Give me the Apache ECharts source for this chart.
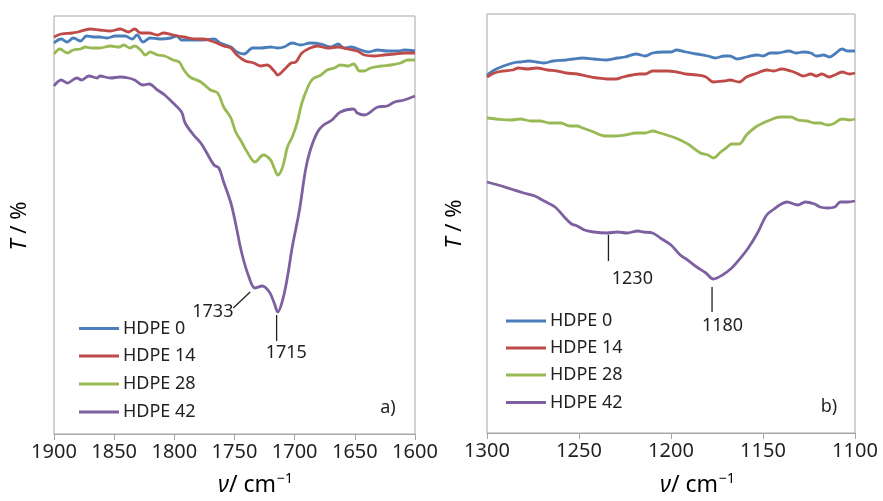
<!DOCTYPE html>
<html>
<head>
<meta charset="utf-8">
<script src="https://cdn.jsdelivr.net/npm/echarts@6/dist/echarts.min.js"></script>
<style>
html,body{margin:0;padding:0;background:#fff;}
#chart{width:883px;height:501px;}
</style>
</head>
<body>
<div id="chart"></div>
<script>
// ---------- DATA ----------
var seriesNames = ['HDPE 0', 'HDPE 14', 'HDPE 28', 'HDPE 42'];

// Panel a) 1900-1600 cm-1  [wavenumber, T (arbitrary units)]
var a_HDPE0 = [[1900,391],[1894,395],[1889,392],[1884,396],[1878,393],[1873,398],[1867,397],[1862,397],[1856,396],[1849,398],[1841,398],[1835,395],[1831,399],[1826,392],[1820,396],[1812,395],[1803,396],[1798,398],[1794,394],[1784,394],[1776,394],[1767,395],[1762,391],[1753,387],[1748,382],[1742,380],[1735,386],[1728,386],[1720,387],[1714,386],[1709,387],[1702,391],[1695,389],[1687,391],[1678,390],[1670,387],[1664,390],[1659,386],[1653,387],[1645,384],[1639,382],[1631,384],[1623,383],[1614,383],[1609,384],[1600,383]];
var a_HDPE14 = [[1900,397],[1894,400],[1885,401],[1880,402],[1870,405],[1862,404],[1853,403],[1845,405],[1838,402],[1833,405],[1828,401],[1821,401],[1814,399],[1809,401],[1801,399],[1792,397],[1781,395],[1776,395],[1767,392],[1759,388],[1753,386],[1748,379],[1741,373],[1734,371],[1728,368],[1723,369],[1717,363],[1714,359],[1709,364],[1703,371],[1699,372],[1694,381],[1687,386],[1681,388],[1673,386],[1664,387],[1656,385],[1648,383],[1642,379],[1634,378],[1626,379],[1617,380],[1609,381],[1600,381]];
var a_HDPE28 = [[1900,380],[1895,385],[1889,381],[1884,384],[1878,385],[1874,387],[1869,386],[1862,386],[1853,388],[1846,387],[1842,389],[1837,386],[1833,388],[1828,384],[1824,379],[1820,382],[1814,379],[1808,378],[1801,374],[1796,372],[1792,364],[1787,357],[1778,352],[1770,344],[1764,341],[1759,327],[1753,316],[1749,302],[1745,294],[1739,281],[1733,272],[1726,279],[1720,274],[1717,266],[1714,259],[1710,267],[1706,287],[1702,297],[1698,311],[1694,331],[1689,347],[1685,355],[1678,359],[1673,364],[1667,366],[1662,369],[1656,368],[1651,370],[1646,363],[1642,363],[1637,366],[1628,368],[1620,369],[1612,371],[1606,374],[1600,374]];
var a_HDPE42 = [[1900,348],[1894,354],[1889,351],[1881,356],[1877,354],[1871,358],[1864,356],[1862,358],[1853,356],[1845,357],[1838,356],[1833,354],[1826,349],[1821,350],[1814,344],[1808,339],[1801,331],[1794,322],[1791,311],[1784,299],[1778,291],[1773,281],[1767,269],[1763,266],[1759,252],[1753,231],[1749,210],[1744,181],[1738,157],[1733,146],[1727,148],[1721,142],[1717,131],[1714,122],[1710,134],[1706,157],[1702,187],[1696,224],[1691,264],[1687,284],[1681,302],[1676,309],[1669,314],[1662,322],[1651,325],[1648,321],[1642,319],[1631,327],[1623,328],[1617,332],[1609,334],[1600,338]];

// Panel b) 1300-1100 cm-1
var b_HDPE0 = [[1300,358],[1296,363],[1291,367],[1286,370],[1282,371],[1277,372],[1273,371],[1269,370],[1264,372],[1257,373],[1253,374],[1248,375],[1242,374],[1235,373],[1229,375],[1225,376],[1219,379],[1214,377],[1210,380],[1204,381],[1200,381],[1197,383],[1192,381],[1186,379],[1180,377],[1176,375],[1171,377],[1168,377],[1164,374],[1159,376],[1153,378],[1150,377],[1146,380],[1142,380],[1136,382],[1132,380],[1128,381],[1124,380],[1121,377],[1117,378],[1114,376],[1111,379],[1107,384],[1104,382],[1100,382]];
var b_HDPE14 = [[1300,356],[1296,360],[1291,362],[1286,363],[1283,365],[1278,364],[1273,365],[1267,363],[1262,362],[1257,360],[1251,359],[1246,357],[1240,355],[1235,354],[1230,354],[1226,356],[1221,358],[1217,359],[1214,359],[1210,362],[1206,362],[1202,362],[1197,361],[1192,359],[1186,358],[1181,356],[1177,351],[1171,352],[1168,353],[1163,351],[1159,356],[1153,360],[1148,363],[1144,362],[1140,364],[1135,362],[1132,360],[1128,357],[1124,359],[1121,357],[1118,359],[1114,356],[1111,358],[1107,361],[1103,359],[1100,360]];
var b_HDPE28 = [[1300,315],[1295,314],[1287,313],[1282,314],[1276,312],[1271,312],[1266,310],[1260,310],[1255,307],[1251,307],[1248,305],[1242,301],[1236,297],[1231,297],[1225,298],[1219,300],[1214,300],[1210,302],[1206,300],[1199,296],[1195,293],[1190,288],[1184,280],[1180,278],[1177,275],[1173,281],[1170,285],[1167,289],[1163,289],[1159,298],[1154,306],[1150,310],[1146,313],[1141,316],[1135,316],[1131,313],[1126,312],[1122,310],[1119,310],[1115,308],[1112,309],[1107,314],[1103,313],[1100,314]];
var b_HDPE42 = [[1300,251],[1294,248],[1287,244],[1280,240],[1274,237],[1269,232],[1263,226],[1258,216],[1254,209],[1251,207],[1247,203],[1242,201],[1235,200],[1229,201],[1224,200],[1218,202],[1215,201],[1210,200],[1205,194],[1200,188],[1195,178],[1191,173],[1186,166],[1181,160],[1177,154],[1172,158],[1167,165],[1164,171],[1158,185],[1153,200],[1148,218],[1144,224],[1140,229],[1137,231],[1131,228],[1127,231],[1122,229],[1119,226],[1115,225],[1111,226],[1108,231],[1104,231],[1100,232]];

// x axis ranges / ticks
var aRange = [1600, 1900];
var bRange = [1100, 1300];
var tickStep = 50;

// Peak annotations: leader line endpoints and label anchor (data units)
var a_peakLabels = ['1733', '1715'];
var a_peakLines = [[[1751,126],[1737,142]], [[1715,119],[1715,93]]];
var a_peakText = [[1768,122], [1707,81]];
var b_peakLabels = ['1230', '1180'];
var b_peakLines = [[[1234,198],[1234,172]], [[1177.7,146],[1177.7,121]]];
var b_peakText = [[1221,154], [1172,107]];

// ---------- CHART ----------
var colors = ['#4a7ebb', '#be4b48', '#98b954', '#7d60a0'];
var FONT = '"Noto Sans", "DejaVu Sans", sans-serif';
var TXT = '#231f20';
var GRAY = '#a6a6a6';

var chart = echarts.init(document.getElementById('chart'), null, {renderer: 'canvas'});

function xAxisCfg(idx, range) {
  return {
    type: 'value', gridIndex: idx, inverse: true,
    min: range[0], max: range[1], interval: tickStep,
    axisLine: {show: true, lineStyle: {color: GRAY, width: 1}},
    axisTick: {show: true, inside: false, length: 6, lineStyle: {color: GRAY}},
    axisLabel: {show: true, margin: 8, fontSize: 20, fontFamily: FONT, color: TXT,
      formatter: function (v) { return String(v); }},
    splitLine: {show: false}
  };
}
function yAxisCfg(idx, max) {
  return {type: 'value', gridIndex: idx, min: 0, max: max, show: false, splitLine: {show: false}};
}

var series = [];
var aData = [a_HDPE0, a_HDPE14, a_HDPE28, a_HDPE42];
var bData = [b_HDPE0, b_HDPE14, b_HDPE28, b_HDPE42];
[aData, bData].forEach(function (set, p) {
  set.forEach(function (d, i) {
    series.push({
      name: seriesNames[i], type: 'line', xAxisIndex: p, yAxisIndex: p,
      data: d, showSymbol: false, symbol: 'none', smooth: 0.35,
      lineStyle: {color: colors[i], width: 2.8}, itemStyle: {color: colors[i]},
      silent: true, z: 3 + i
    });
  });
});

function addPeaks(p, labels, lines, texts) {
  lines.forEach(function (ln) {
    series.push({
      type: 'line', xAxisIndex: p, yAxisIndex: p, data: ln, symbol: 'none',
      lineStyle: {color: '#231f20', width: 1.3}, silent: true, z: 10
    });
  });
  series.push({
    type: 'scatter', xAxisIndex: p, yAxisIndex: p, symbolSize: 0, silent: true, z: 10,
    data: texts.map(function (t, k) { return {value: t, name: labels[k]}; }),
    label: {show: true, position: 'inside', formatter: '{b}', fontSize: 18, fontFamily: FONT,
      color: TXT, textBorderWidth: 0, opacity: 1}
  });
}
addPeaks(0, a_peakLabels, a_peakLines, a_peakText);
addPeaks(1, b_peakLabels, b_peakLines, b_peakText);

var legends = [];
var legendTopsA = [319.5, 347, 375, 403];
var legendTopsB = [312, 339, 366, 393.5];
seriesNames.forEach(function (n, i) {
  [[79, legendTopsA[i]], [506, legendTopsB[i]]].forEach(function (pos) {
    legends.push({
      data: [n], left: pos[0], top: pos[1], padding: 0,
      icon: 'rect', itemWidth: 40, itemHeight: 3, itemGap: 0,
      textStyle: {fontSize: 18, fontFamily: FONT, color: TXT, padding: [0, 0, 0, -1]},
      selectedMode: false
    });
  });
});

var titleRich = {
  i: {fontSize: 23, fontStyle: 'italic', fontFamily: FONT, color: TXT},
  n: {fontSize: 23, fontFamily: FONT, color: TXT},
  s: {fontSize: 14, fontFamily: FONT, color: TXT, padding: [0, 0, 12, 1]}
};
var yRich = {
  i: {fontSize: 22, fontStyle: 'italic', fontFamily: FONT, color: TXT},
  n: {fontSize: 22, fontFamily: FONT, color: TXT}
};

chart.setOption({
  animation: false,
  backgroundColor: '#ffffff',
  grid: [
    {left: 54, top: 16, width: 361, height: 418, show: true, borderColor: GRAY, borderWidth: 1, backgroundColor: 'transparent'},
    {left: 487, top: 14, width: 368, height: 419, show: true, borderColor: GRAY, borderWidth: 1, backgroundColor: 'transparent'}
  ],
  xAxis: [xAxisCfg(0, aRange), xAxisCfg(1, bRange)],
  yAxis: [yAxisCfg(0, 418), yAxisCfg(1, 419)],
  legend: legends,
  series: series,
  graphic: [
    {type: 'text', left: 218, top: 472, style: {text: '{i|ν}{n|/ cm}{s|−1}', rich: titleRich}},
    {type: 'text', left: 660, top: 472, style: {text: '{i|ν}{n|/ cm}{s|−1}', rich: titleRich}},
    {type: 'text', x: 20, y: 226, rotation: Math.PI / 2,
      style: {text: '{i|T}{n| / %}', rich: yRich, align: 'center', verticalAlign: 'middle'}},
    {type: 'text', x: 455, y: 224, rotation: Math.PI / 2,
      style: {text: '{i|T}{n| / %}', rich: yRich, align: 'center', verticalAlign: 'middle'}},
    {type: 'text', x: 388, y: 408, style: {text: 'a)', font: '18px ' + FONT, fill: TXT, align: 'center', verticalAlign: 'middle'}},
    {type: 'text', x: 829, y: 407, style: {text: 'b)', font: '18px ' + FONT, fill: TXT, align: 'center', verticalAlign: 'middle'}}
  ]
});
</script>
</body>
</html>
